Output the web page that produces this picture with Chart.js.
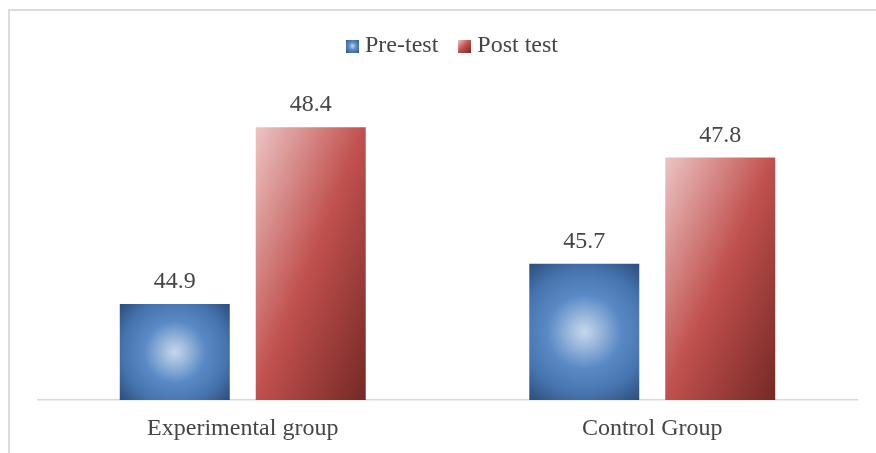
<!DOCTYPE html>
<html><head><meta charset="utf-8">
<script src="https://cdn.jsdelivr.net/npm/chart.js@4/dist/chart.umd.min.js"></script>
<style>
html,body{margin:0;padding:0;background:#fff;overflow:hidden;}
canvas{display:block;}
</style></head><body>
<canvas id="c" width="876" height="453"></canvas>
<script>
const categories = ['Experimental group', 'Control Group'];
const seriesNames = ['Pre-test', 'Post test'];
const preTest = [44.9, 45.7];
const postTest = [48.4, 47.8];
const yMin = 43, yMax = 49;

const TEXT = '#454545';
const FONT = '"Liberation Serif", "Times New Roman", serif';
Chart.defaults.font.family = FONT;
Chart.defaults.font.size = 24;
Chart.defaults.color = TEXT;

function blueGrad(ctx, l, t, w, h) {
  const cx = l + w / 2, cy = t + h / 2, R = Math.sqrt(w * w + h * h) / 2;
  const g = ctx.createRadialGradient(cx, cy, 0, cx, cy, R);
  g.addColorStop(0, '#c6d6ec');
  g.addColorStop(0.12, '#aac2e1');
  g.addColorStop(0.42, '#5a8ac6');
  g.addColorStop(0.72, '#4573ad');
  g.addColorStop(1, '#2b4d7c');
  return g;
}
function redGrad(ctx, l, t, w, h) {
  const k = 2 * w * h / (w * w + h * h);
  const g = ctx.createLinearGradient(l, t, l + h * k, t + w * k);
  g.addColorStop(0, '#ecc5c4');
  g.addColorStop(0.5, '#c0504d');
  g.addColorStop(1, '#752826');
  return g;
}
function icon(fn) {
  const c = document.createElement('canvas');
  c.width = 13; c.height = 13;
  const x = c.getContext('2d');
  x.fillStyle = fn(x, 0, 0, 13, 13);
  x.fillRect(0, 0, 13, 13);
  return c;
}
const legendIcons = [icon(blueGrad), icon(redGrad)];
const gradFns = [blueGrad, redGrad];

const framePlugin = {
  id: 'frame',
  beforeDraw(chart) {
    const ctx = chart.ctx;
    ctx.save();
    ctx.fillStyle = '#ffffff';
    ctx.fillRect(0, 0, chart.width, chart.height);
    ctx.strokeStyle = '#dcdcdc';
    ctx.lineWidth = 2;
    ctx.beginPath();
    ctx.moveTo(9, chart.height + 5);
    ctx.lineTo(9, 10);
    ctx.lineTo(chart.width + 5, 10);
    ctx.stroke();
    ctx.restore();
  }
};
const gradPlugin = {
  id: 'grad',
  beforeDatasetsDraw(chart) {
    const ctx = chart.ctx;
    const bottom = chart.chartArea.bottom;
    chart.data.datasets.forEach((ds, di) => {
      chart.getDatasetMeta(di).data.forEach(el => {
        const { x, y, base, width } = el;
        const b = Math.min(Math.max(y, base), bottom);
        const l = x - width / 2, t = Math.min(y, base), h = b - t;
        el.options = Object.assign({}, el.options, { backgroundColor: gradFns[di](ctx, l, t, width, h) });
      });
    });
  }
};
const labelPlugin = {
  id: 'vals',
  afterDatasetsDraw(chart) {
    const ctx = chart.ctx;
    ctx.save();
    ctx.font = '24px ' + FONT;
    ctx.fillStyle = TEXT;
    ctx.textAlign = 'center';
    ctx.textBaseline = 'alphabetic';
    chart.data.datasets.forEach((ds, di) => {
      chart.getDatasetMeta(di).data.forEach((el, i) => {
        ctx.fillText(ds.data[i].toFixed(1), el.x, el.y - 16);
      });
    });
    ctx.restore();
  }
};
const legendGap = {
  id: 'legendGap',
  beforeInit(chart) {
    const orig = chart.legend.fit;
    chart.legend.fit = function () {
      orig.call(this);
      this.height += 29;
      if (this.lineWidths) this.lineWidths[0] -= 15;
    };
  }
};

new Chart(document.getElementById('c'), {
  type: 'bar',
  data: {
    labels: categories,
    datasets: [
      { label: seriesNames[0], data: preTest, backgroundColor: '#4f81bd' },
      { label: seriesNames[1], data: postTest, backgroundColor: '#c0504d' }
    ]
  },
  options: {
    responsive: false,
    animation: false,
    datasets: { bar: { categoryPercentage: 0.664, barPercentage: 0.809, borderWidth: 0, base: yMin } },
    layout: { autoPadding: false, padding: { left: 38, right: 19, top: 8, bottom: 10 } },
    plugins: {
      legend: {
        position: 'top',
        labels: {
          usePointStyle: true,
          boxWidth: 1,
          boxHeight: 13,
          padding: 26,
          color: TEXT,
          font: { size: 24, family: FONT },
          generateLabels(chart) {
            return chart.data.datasets.map((ds, i) => ({
              text: ds.label, pointStyle: legendIcons[i], fillStyle: '#ffffff',
              strokeStyle: '#ffffff', lineWidth: 0, hidden: false, datasetIndex: i, fontColor: TEXT
            }));
          }
        }
      },
      tooltip: { enabled: false }
    },
    scales: {
      x: {
        grid: { display: false, drawTicks: false },
        border: { display: true, color: '#d9d9d9', width: 1.5 },
        ticks: { padding: 14, color: TEXT, font: { size: 24, family: FONT } },
        afterFit(s) { s.height = 43; }
      },
      y: { display: false, min: yMin, max: yMax }
    }
  },
  plugins: [framePlugin, legendGap, gradPlugin, labelPlugin]
});
</script>
</body></html>
